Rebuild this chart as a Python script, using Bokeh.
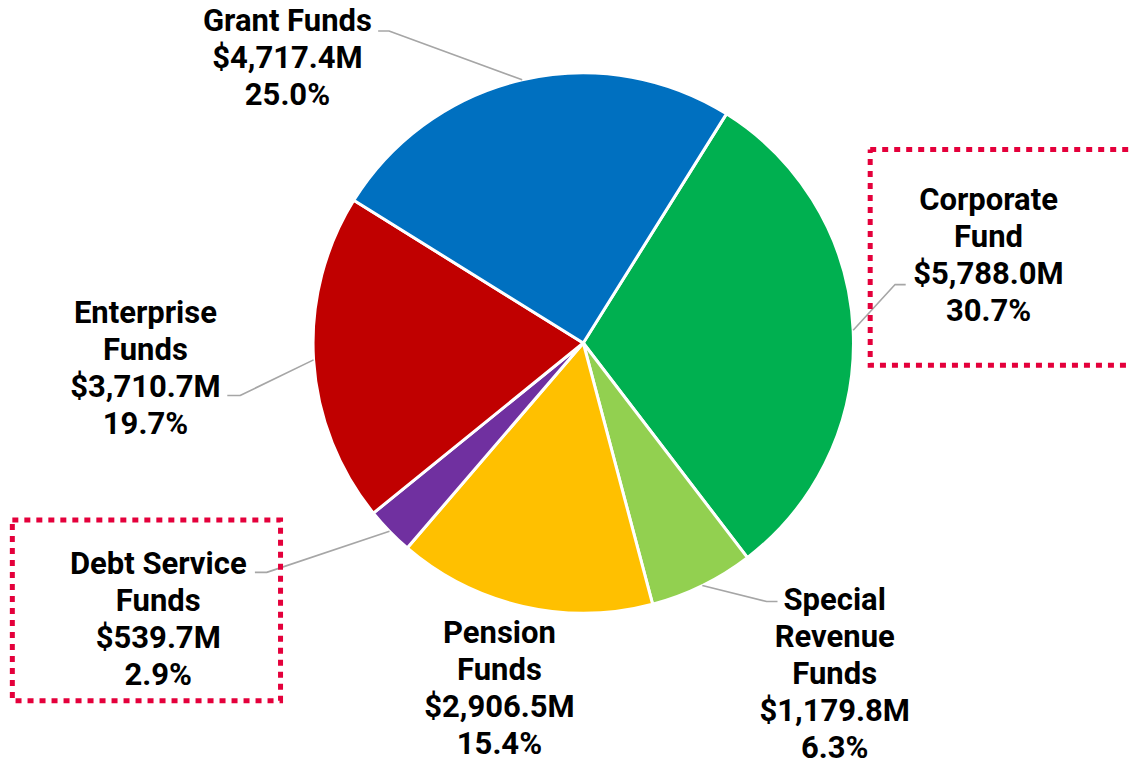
import math
from bokeh.plotting import figure
from bokeh.models import Range1d, ColumnDataSource
from bokeh.core.properties import value
from bokeh.embed import file_html
from bokeh.resources import INLINE

# ---- data ----
categories = ["Corporate Fund", "Special Revenue Funds", "Pension Funds",
              "Debt Service Funds", "Enterprise Funds", "Grant Funds"]
amounts_m = [5788.0, 1179.8, 2906.5, 539.7, 3710.7, 4717.4]
colors = ["#00B050", "#92D050", "#FFC000", "#7030A0", "#C00000", "#0070C0"]
label_lines = [["Corporate", "Fund"], ["Special", "Revenue", "Funds"],
               ["Pension", "Funds"], ["Debt Service", "Funds"],
               ["Enterprise", "Funds"], ["Grant Funds"]]
highlighted = ["Corporate Fund", "Debt Service Funds"]

# ---- layout (reference pixel coordinates, mapped onto the figure) ----
W, H = 1131, 766
SX = W / 1147.0
SY, OY = 0.972, -1.6
S = (SX + SY) / 2
CX, CY, R = 591, 354, 276
START_DEG = 32.0  # clockwise from 12 o'clock
label_pos = {
    "Corporate Fund": (1002, 217),
    "Special Revenue Funds": (846, 628),
    "Pension Funds": (506, 662),
    "Debt Service Funds": (160, 591),
    "Enterprise Funds": (147, 333),
    "Grant Funds": (291, 33),
}
leaders = {
    "Corporate Fund": ((918, 294), (907, 294)),
    "Special Revenue Funds": ((788, 620), (777, 620)),
    "Pension Funds": None,
    "Debt Service Funds": ((258, 590), (270, 590)),
    "Enterprise Funds": ((230, 408), (243, 408)),
    "Grant Funds": ((383, 33), (394, 33)),
}
boxes = {
    "Corporate Fund": (882, 155, 1170, 377),
    "Debt Service Funds": (12, 536, 284, 722),
}
LINE_H = 38.0
FONT_PX = 31
TEXT_SHIFT = 10  # compensates the renderer's baseline placement


def fx(x):
    return x * SX


def fy(y):
    return H - (y * SY + OY)


p = figure(width=W, height=H, output_backend="svg", toolbar_location=None,
           x_range=Range1d(0, W), y_range=Range1d(0, H),
           min_border=0, outline_line_color=None, background_fill_color="white")
p.axis.visible = False
p.grid.visible = False

total = sum(amounts_m)
fracs = [a / total for a in amounts_m]
starts, ends, mids = [], [], []
acc = START_DEG
for f in fracs:
    s = acc
    e = acc + f * 360.0
    starts.append(s)
    ends.append(e)
    mids.append((s + e) / 2)
    acc = e

src = ColumnDataSource(dict(
    x=[fx(CX)] * len(categories), y=[fy(CY)] * len(categories),
    start=[math.radians(90 - e) for e in ends],
    end=[math.radians(90 - s) for s in starts],
    color=colors))
p.wedge(x="x", y="y", radius=R * S, start_angle="start", end_angle="end",
        fill_color="color", line_color="white", line_width=3, source=src)

# leader lines
for i, cat in enumerate(categories):
    ld = leaders[cat]
    if ld is None:
        continue
    m = math.radians(mids[i])
    ex = fx(CX) + R * S * math.sin(m)
    ey = fy(CY) + R * S * math.cos(m)
    (lx, ly), (bx, by) = ld
    p.line([fx(lx), fx(bx), ex], [fy(ly), fy(by), ey],
           line_color="#A6A6A6", line_width=1.6)

# highlight boxes
for cat, (x0, y0, x1, y1) in boxes.items():
    p.line([fx(x0), fx(x1), fx(x1), fx(x0), fx(x0)],
           [fy(y0), fy(y0), fy(y1), fy(y1), fy(y0)],
           line_color="#E4003B", line_width=5, line_dash="6 6", line_join="miter")

# labels
tx, ty, tt = [], [], []
for i, cat in enumerate(categories):
    lines = list(label_lines[i]) + ["${:,.1f}M".format(amounts_m[i]),
                                    "{:.1f}%".format(fracs[i] * 100)]
    cx, by = label_pos[cat]
    for k, t in enumerate(lines):
        tx.append(fx(cx))
        ty.append(fy(by + k * LINE_H) + TEXT_SHIFT)
        tt.append(t)
p.text(x=tx, y=ty, text=tt, text_font=value("Roboto"), text_font_style="bold",
       text_font_size="%dpx" % FONT_PX, text_color="#000000", text_align="center",
       text_baseline="alphabetic")

open("out.html", "w").write(file_html(p, INLINE))
